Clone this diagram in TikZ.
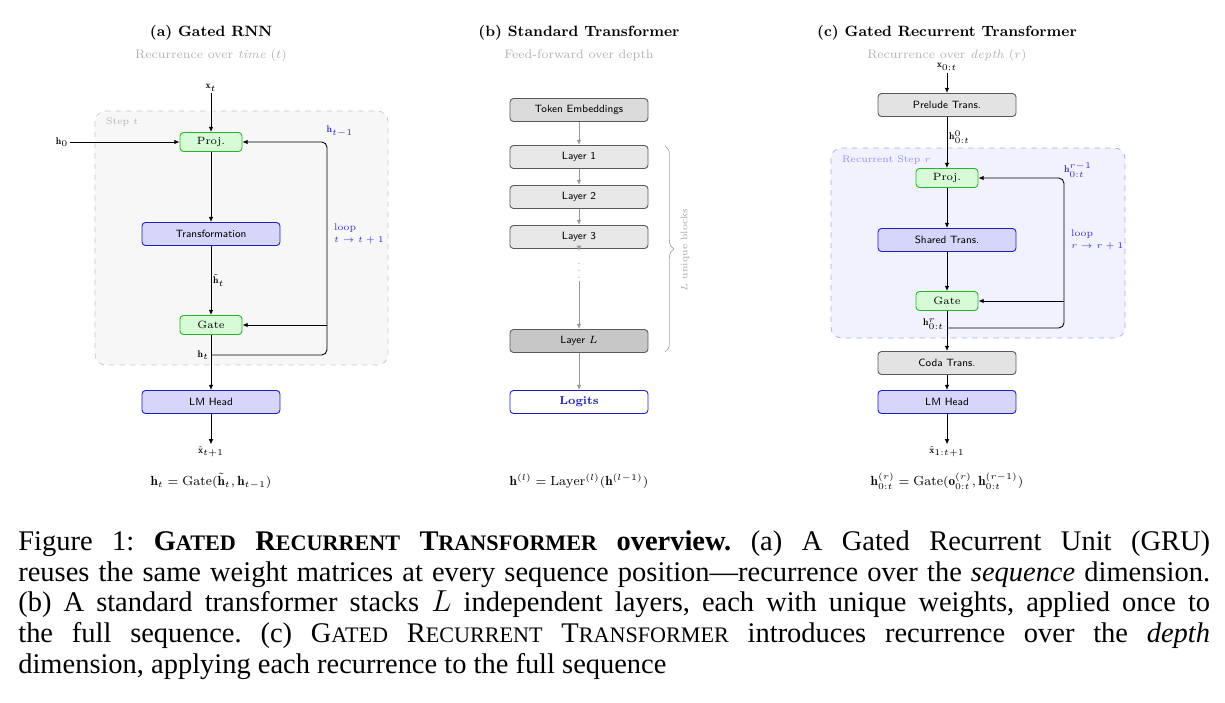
\documentclass[tikz,border=0pt]{standalone}
\usepackage{amsmath}
\usepackage{fontspec}
\newfontfamily\capfont{Liberation Serif}
\usetikzlibrary{arrows.meta,decorations.pathreplacing}

\definecolor{gbord}{RGB}{40,180,40}
\definecolor{gfill}{RGB}{215,250,215}
\definecolor{bbord}{RGB}{30,30,190}
\definecolor{bfill}{RGB}{214,214,250}
\definecolor{lbl}{RGB}{50,50,210}

\newcommand\smc[2]{#1{\fontsize{12.6}{0}\selectfont #2}}

\tikzset{
  blk/.style={draw, rounded corners=2pt, line width=0.5pt, font=\sffamily\fontsize{6}{7}\selectfont,
    minimum width=2.76cm, minimum height=0.46cm, inner sep=1pt},
  small/.style={blk, minimum width=1.24cm, minimum height=0.38cm},
  gblk/.style={small, draw=gbord, fill=gfill, font=\fontsize{6}{7}\selectfont},
  bblk/.style={blk, draw=bbord, fill=bfill},
  grblk/.style={blk, draw=black!65, fill=black!11},
  arr/.style={-{Latex[length=3pt,width=2.6pt]}, line width=0.5pt},
  garr/.style={arr, draw=black!40},
  title/.style={font=\bfseries\fontsize{8.5}{10}\selectfont},
  sub/.style={text=black!30, font=\fontsize{7}{8}\selectfont},
  lab/.style={font=\fontsize{5.5}{6.5}\selectfont, inner sep=1pt},
  blab/.style={lab, text=lbl, align=left},
  frm/.style={font=\fontsize{7.5}{9}\selectfont}
}

\begin{document}
\begin{tikzpicture}[x=0.02cm, y=-0.02cm]
    \useasboundingbox (0,0) rectangle (1225,703);

    % (a) Gated RNN
    \node[title] (ta) at (211,33) {(a) Gated RNN};
    \node[sub] (sa) at (211,55) {Recurrence over \textit{time} $(t)$};
    \draw[dashed, draw=black!22, fill=black!3, rounded corners=6pt] (95,111) rectangle (388,365);
    \node[text=black!30, font=\fontsize{5.5}{6}\selectfont, anchor=west] (stepa) at (100,122) {Step $t$};
    \node[lab] (xa) at (211,88) {$\mathbf{x}_t$};
    \node[gblk] (proja) at (211,142) {Proj.};
    \node[lab] (h0a) at (62,142) {$\mathbf{h}_0$};
    \node[bblk] (trfa) at (211,234) {Transformation};
    \node[gblk] (gatea) at (211,325) {Gate};
    \node[bblk] (heada) at (211,402) {LM Head};
    \node[lab] (outa) at (211,452) {$\hat{\mathbf{x}}_{t+1}$};
    \node[frm] (fa) at (211,481) {$\mathbf{h}_t = \mathrm{Gate}(\tilde{\mathbf{h}}_t, \mathbf{h}_{t-1})$};
    \coordinate (hta) at (211,355);
    \coordinate (lba) at (327,355);
    \coordinate (lga) at (327,325);
    \coordinate (lta) at (327,142);
    \draw[arr] (xa) -- (proja);
    \draw[arr] (h0a) -- (proja);
    \draw[arr] (proja) -- (trfa);
    \draw[arr] (trfa) -- (gatea) node[lab, pos=0.5, right] {$\tilde{\mathbf{h}}_t$};
    \draw[arr] (gatea) -- (heada);
    \draw[arr] (heada) -- (outa);
    \draw[arr, rounded corners=3pt] (hta) -- (lba) -- (lta) -- (proja.east);
    \draw[arr] (lga) -- (gatea.east);
    \node[lab, anchor=east] (hla) at (hta) {$\mathbf{h}_t$};
    \node[blab] (hpa) at (340,131) {$\mathbf{h}_{t-1}$};
    \node[blab, anchor=west] (loopa) at (332,234) {loop\\$t\to t+1$};

    % (b) Standard Transformer
    \node[title] (tb) at (579,33) {(b) Standard Transformer};
    \node[sub] (sb) at (579,55) {Feed-forward over depth};
    \node[grblk, fill=black!14] (emb) at (579,110) {Token Embeddings};
    \node[grblk, fill=black!9] (l1) at (579,157) {Layer 1};
    \node[grblk, fill=black!9] (l2) at (579,197) {Layer 2};
    \node[grblk, fill=black!9] (l3) at (579,237) {Layer 3};
    \node[lab, text=black!40] (dots) at (579,266) {$\vdots$};
    \node[grblk, fill=black!22] (lL) at (579,341) {Layer $L$};
    \node[blk, draw=bbord, text=bbord, font=\bfseries\fontsize{6.5}{7}\selectfont] (logits) at (579,402) {Logits};
    \node[frm] (fb) at (579,481) {$\mathbf{h}^{(l)} = \mathrm{Layer}^{(l)}(\mathbf{h}^{(l-1)})$};
    \draw[garr] (emb) -- (l1);
    \draw[garr] (l1) -- (l2);
    \draw[garr] (l2) -- (l3);
    \draw[garr] (l3) -- (dots);
    \draw[garr] (dots) -- (lL);
    \draw[garr] (lL) -- (logits);
    \coordinate (bra) at (665,146);
    \coordinate (brb) at (665,352);
    \draw[draw=black!35, line width=0.4pt, decorate, decoration={brace, amplitude=5pt}] (bra) -- (brb);
    \node[text=black!35, font=\fontsize{5.5}{6}\selectfont, rotate=90] (brl) at (685,250) {$L$ unique blocks};

    % (c) Gated Recurrent Transformer
    \node[title] (tc) at (947,33) {(c) Gated Recurrent Transformer};
    \node[sub] (sc) at (947,55) {Recurrence over \textit{depth} $(r)$};
    \node[lab] (xc) at (947,67) {$\mathbf{x}_{0:t}$};
    \node[grblk] (prel) at (947,105) {Prelude Trans.};
    \draw[dashed, draw=blue!35, fill=blue!5, rounded corners=6pt] (831,148) rectangle (1125,338);
    \node[text=blue!45, font=\fontsize{5.5}{6}\selectfont, anchor=west] (stepc) at (836,160) {Recurrent Step $r$};
    \node[gblk] (projc) at (947,178) {Proj.};
    \node[bblk] (shared) at (947,240) {Shared Trans.};
    \node[gblk] (gatec) at (947,301) {Gate};
    \node[grblk] (coda) at (947,363) {Coda Trans.};
    \node[bblk] (headc) at (947,402) {LM Head};
    \node[lab] (outc) at (947,452) {$\hat{\mathbf{x}}_{1:t+1}$};
    \node[frm] (fc) at (947,481) {$\mathbf{h}^{(r)}_{0:t} = \mathrm{Gate}(\mathbf{o}^{(r)}_{0:t}, \mathbf{h}^{(r-1)}_{0:t})$};
    \coordinate (htc) at (947,328);
    \coordinate (lbc) at (1064,328);
    \coordinate (lgc) at (1064,301);
    \coordinate (ltc) at (1064,178);
    \draw[arr] (xc) -- (prel);
    \draw[arr] (prel) -- (projc) node[lab, pos=0.4, right] {$\mathbf{h}^0_{0:t}$};
    \draw[arr] (projc) -- (shared);
    \draw[arr] (shared) -- (gatec);
    \draw[arr] (gatec) -- (coda);
    \draw[arr] (coda) -- (headc);
    \draw[arr] (headc) -- (outc);
    \draw[arr, rounded corners=3pt] (htc) -- (lbc) -- (ltc) -- (projc.east);
    \draw[arr] (lgc) -- (gatec.east);
    \node[lab, anchor=east] (hlc) at (946,324) {$\mathbf{h}^r_{0:t}$};
    \node[blab] (hpc) at (1078,170) {$\mathbf{h}^{r-1}_{0:t}$};
    \node[blab, anchor=west] (loopc) at (1069,240) {loop\\$r\to r+1$};

    % caption
    \node[anchor=north west, text width=23.84cm, align=justify, inner sep=0pt,
      font=\capfont\fontsize{16.2}{17.6}\selectfont] (cap) at (18,530) {%
      \frenchspacing
      Figure 1: \textbf{\smc{G}{ATED} \smc{R}{ECURRENT} \smc{T}{RANSFORMER} overview.} (a) A Gated Recurrent Unit (GRU)\linebreak
      reuses the same weight matrices at every sequence position—recurrence over the \textit{sequence} dimension.\linebreak
      (b) A standard transformer stacks $L$ independent layers, each with unique weights, applied once to\linebreak
      the full sequence. (c) \smc{G}{ATED} \smc{R}{ECURRENT} \smc{T}{RANSFORMER} introduces recurrence over the \textit{depth}\linebreak
      dimension, applying each recurrence to the full sequence};
\end{tikzpicture}
\end{document}
